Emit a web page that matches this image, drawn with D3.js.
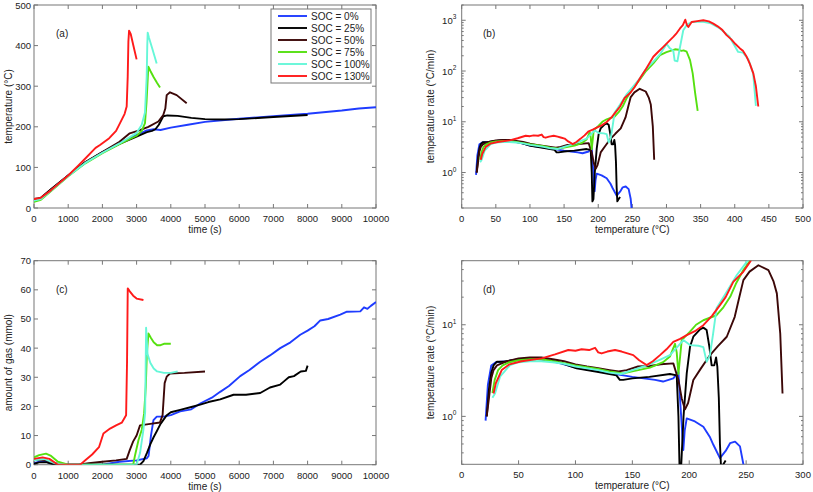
<!DOCTYPE html>
<html><head><meta charset="utf-8">
<script src="https://cdn.jsdelivr.net/npm/d3@7"></script>
<style>body{margin:0;background:#fff}svg{display:block}text{font-family:"Liberation Sans",Arial,Helvetica,sans-serif;fill:#222}</style>
</head><body>
<script>
// ---------------- DATA ----------------
const seriesNames = ["SOC = 0%","SOC = 25%","SOC = 50%","SOC = 75%","SOC = 100%","SOC = 130%"];
const seriesColors = ["#1f3cff","#000000","#3c0808","#55e010","#66f7d8","#ff1a1a"];

// (a) temperature (°C) vs time (s)
const tempTime0 = [[0,20],[200,24],[500,45],[1000,80],[1500,112],[2000,138],[2500,160],[3000,180],[3300,191],[3500,194],[3700,192],[4000,198],[4500,205],[5000,212],[5500,216],[6000,220],[7000,226],[8000,232],[9000,240],[9500,245],[10000,248]];
const tempTime25 = [[0,20],[200,24],[500,46],[1000,80],[1500,112],[2000,137],[2500,158],[3000,176],[3300,187],[3450,190],[3550,194],[3650,205],[3780,226],[3900,228],[4200,227],[4600,222],[5000,219],[5500,218],[6000,219],[7000,224],[8000,229]];
const tempTime50 = [[0,22],[200,25],[500,46],[1000,80],[1500,113],[2000,138],[2500,163],[2800,184],[3100,192],[3343,200],[3635,213],[3780,229],[3840,245],[3880,278],[3977,285],[4172,278],[4464,258]];
const tempTime75 = [[0,15],[200,20],[500,42],[1000,78],[1500,110],[2000,135],[2500,157],[3000,178],[3150,190],[3245,209],[3290,260],[3343,348],[3400,338],[3500,322],[3600,308],[3685,297]];
const tempTime100 = [[0,18],[200,22],[500,43],[1000,79],[1500,111],[2000,136],[2500,159],[3000,185],[3150,205],[3245,235],[3295,323],[3312,400],[3325,432],[3360,420],[3460,392],[3587,356]];
const tempTime130 = [[0,22],[200,25],[500,44],[1000,80],[1300,105],[1500,122],[1800,148],[1930,155],[2200,172],[2400,190],[2515,209],[2650,232],[2710,250],[2740,323],[2760,410],[2780,437],[2830,428],[2900,402],[3000,366]];

// (c) amount of gas (mmol) vs time (s)
const gasTime0 = [[0,0.5],[150,1],[350,1],[600,0.3],[800,0],[2000,0],[2500,1],[3000,1.5],[3300,2.2],[3350,3],[3420,10],[3493,15.3],[3590,16.5],[3800,16.5],[4000,17],[4273,18.3],[4600,19],[4859,21],[5200,23],[5444,25],[5700,27],[6029,30.4],[6300,32.5],[6615,35.3],[6900,37.5],[7200,40],[7500,42],[7785,44.6],[8000,46],[8200,47.5],[8371,49.5],[8600,50],[8956,51.5],[9150,52.5],[9541,52.6],[9650,54],[9750,53.5],[9850,54.5],[10000,55.8]];
const gasTime25 = [[0,0.3],[150,0.8],[350,0.9],[600,0],[3100,0],[3200,1.2],[3300,4],[3400,7],[3500,9.5],[3590,11.5],[3700,14],[3883,17],[4000,18],[4273,18.8],[4600,19.8],[4859,20.6],[5100,21.5],[5444,22.4],[5834,24],[6200,24],[6615,24.6],[6900,26.5],[7200,27.5],[7300,28.5],[7450,30],[7600,30.4],[7800,32],[7950,32.2],[8000,34]];
const gasTime50 = [[0,1.5],[150,1.8],[350,1.6],[600,0.5],[900,0],[1300,0],[1600,0.5],[2000,1],[2400,1.5],[2710,2],[2800,5],[2900,8],[3000,10],[3100,13.5],[3400,14],[3684,14.5],[3760,17],[3820,28],[3880,30.2],[3977,31.3],[4400,31.5],[5000,32]];
const gasTime75 = [[0,2.5],[150,3.3],[350,3.8],[500,3],[700,1],[1000,0],[2900,0],[2950,3],[3054,8.4],[3151,12],[3220,17.6],[3268,26.7],[3300,38],[3346,45],[3420,43.5],[3500,42],[3600,41],[3700,41],[3800,41.5],[4000,41.5]];
const gasTime100 = [[0,1.5],[300,2],[600,0.5],[900,0],[3000,0],[3100,4],[3200,12],[3250,18],[3278,47],[3320,38],[3400,35],[3500,33],[3600,32],[3800,31.5],[4000,31.5],[4200,32]];
const gasTime130 = [[0,2],[250,2.5],[450,2],[700,0],[1350,0],[1500,1.5],[1700,3.5],[1900,6],[2030,10.7],[2224,12.4],[2400,13.5],[2566,14.4],[2693,17],[2720,35],[2741,60.5],[2800,59.5],[2900,58],[3000,57],[3200,56.5]];

// (b),(d) temperature rate (°C/min) vs temperature (°C)
const rateTemp0 = [[21,0.9],[23,2.2],[26,3.6],[30,3.9],[40,4.0],[50,4.2],[60,4.3],[70,4.2],[80,4.0],[90,3.7],[100,3.4],[120,3.1],[135,2.9],[142,2.8],[150,2.7],[160,2.6],[170,2.5],[177,2.4],[186,2.6],[190.5,3.05],[192,1.5],[194.8,0.43],[196,0.7],[197.8,0.95],[205,0.88],[212.4,0.77],[218,0.6],[221.2,0.49],[227,0.35],[232,0.42],[235.9,0.51],[240.3,0.53],[244.6,0.47],[247.6,0.3],[249,0.19],[252,0.19]];
const rateTemp25 = [[22,1.0],[24,2.0],[26,3.0],[28,3.6],[31,3.95],[37,3.95],[45,4.1],[57,4.3],[70,4.2],[84,3.95],[101,3.35],[119,3.07],[136,2.8],[139,2.5],[142,2.5],[150,2.6],[165,2.7],[183,2.9],[189,2.8],[190.5,1.0],[191.5,0.27],[193,0.3],[195,1.0],[197.8,2.95],[200.7,5.75],[203.6,7.4],[209.5,8.9],[212.4,9.3],[215.3,8.75],[217.7,5.75],[219.7,3.6],[222,3.6],[223.6,4.4],[224.7,3.5],[226,1.6],[227,0.5],[228,0.27],[230,0.3],[232,0.33]];
const rateTemp50 = [[22,1.0],[24,1.6],[26,2.6],[28,3.2],[31,3.6],[40,4.0],[50,4.3],[60,4.4],[70,4.4],[80,4.2],[90,4.0],[100,3.7],[110,3.5],[120,3.35],[130,3.2],[138,3.1],[145,3.2],[155,3.5],[165,3.55],[175,3.7],[186,3.79],[190.5,2.49],[193.4,1.57],[196.3,1.19],[199,1.4],[203.6,2.49],[210,3.3],[218.3,4.67],[225,5.8],[233,7.4],[240,12.2],[244,20],[247.6,30.7],[253,38],[260.8,44.6],[269.6,39.5],[274,30],[277,22],[280,8],[282,1.78]];
const rateTemp75 = [[27,1.8],[29,2.5],[32,3.2],[36,3.6],[42,3.9],[50,4.1],[60,4.2],[70,4.2],[80,4.0],[90,3.8],[100,3.6],[120,3.3],[130,3.1],[142,2.95],[150,3.1],[165.5,3.4],[177,3.9],[183,4.5],[187.5,6.2],[189,5.0],[190.5,2.9],[192,4.5],[193.4,6.8],[200.7,8.4],[206,10],[212.4,11.2],[224,12.7],[230,15.5],[236,20.2],[241,28],[247.6,39.6],[253.4,50],[261,68],[270,100],[280.7,141],[290.5,205],[300,235],[312.5,268],[318,262],[322,250],[325,255],[329.6,240],[334.5,164],[338.4,90],[342,36.5],[345.7,16.4]];
const rateTemp100 = [[27,1.6],[29.3,1.78],[33.7,2.71],[42.5,3.63],[50,3.9],[60,4.0],[70,4.0],[80,3.9],[90,3.75],[100,3.5],[120,3.2],[130,3.0],[140,2.9],[150,3.2],[160,3.5],[167,3.8],[175,4.2],[183,4.66],[190,5.8],[194.8,6.8],[200.7,6.0],[208,5.9],[212.4,5.7],[215.3,3.94],[218.2,4.66],[221,8],[224,15.1],[233,22.9],[241.7,34.7],[250.5,48.5],[261,72],[270,110],[280,150],[290,210],[297,290],[300,345],[305,280],[310,250],[312,160],[316,155],[319,260],[324.6,636],[330,820],[337,925],[345,930],[354,930],[365,870],[378.4,690],[392,480],[405,238],[412,230],[420,170],[427,90],[431,20.6]];
const rateTemp130 = [[28,1.78],[30,2.3],[35.2,3.2],[42,3.7],[52.7,4.0],[70.3,4.3],[82,4.74],[93.7,5.3],[100,5.2],[105.4,5.4],[112,5.3],[117.2,5.6],[120,5.0],[123,4.86],[128,5.1],[134.8,5.3],[140.6,5.1],[145,4.9],[150.8,4.66],[156,4.1],[162.6,3.63],[168,4.0],[174.3,4.66],[180,5.4],[186,6.5],[192,7.0],[197.8,7.7],[205,8.5],[212.4,9.9],[220,12.5],[227,16.4],[232,20],[238.7,29.4],[247.5,37.8],[253.4,48.5],[261.2,71.8],[270,110],[280.7,191],[288,240],[295.4,300],[303,380],[310,470],[315,560],[319.8,690],[324,800],[327.6,1025],[330,800],[332,740],[336.9,925],[345,960],[354,1000],[362,950],[368.6,861],[375,760],[382,640],[388,510],[395,420],[401,340],[407.7,279],[412,250],[417.5,191],[422,140],[427.2,90],[431,50],[434.5,20]];

// tick values
const timeTicks = [0,1000,2000,3000,4000,5000,6000,7000,8000,9000,10000];
const tempTicksA = [0,100,200,300,400,500];
const gasTicks = [0,10,20,30,40,50,60,70];
const tempTicksB = [0,50,100,150,200,250,300,350,400,450,500];
const tempTicksD = [0,50,100,150,200,250,300];

// ---------------- DRAWING ----------------
const svg = d3.select("body").append("svg").attr("width",813).attr("height",492);
const FRAME = "#777";

function drawPanel(o, idx){
  const g = svg.append("g");
  const x = d3.scaleLinear().domain(o.xDomain).range([o.x0,o.x1]);
  const y = (o.log ? d3.scaleLog() : d3.scaleLinear()).domain(o.yDomain).range([o.y1,o.y0]);
  const clipId = "clip"+idx;
  svg.append("clipPath").attr("id",clipId).append("rect")
    .attr("x",o.x0).attr("y",o.y0).attr("width",o.x1-o.x0).attr("height",o.y1-o.y0);
  // ticks x (bottom & top, inward)
  o.xTicks.forEach(v=>{
    const px = x(v);
    g.append("line").attr("x1",px).attr("x2",px).attr("y1",o.y1).attr("y2",o.y1-4).attr("stroke",FRAME);
    g.append("line").attr("x1",px).attr("x2",px).attr("y1",o.y0).attr("y2",o.y0+4).attr("stroke",FRAME);
    g.append("text").attr("x",px).attr("y",o.y1+14).attr("text-anchor","middle").attr("font-size",9.5).text(v);
  });
  if(!o.log){
    o.yTicks.forEach(v=>{
      const py = y(v);
      g.append("line").attr("x1",o.x0).attr("x2",o.x0+4).attr("y1",py).attr("y2",py).attr("stroke",FRAME);
      g.append("line").attr("x1",o.x1).attr("x2",o.x1-4).attr("y1",py).attr("y2",py).attr("stroke",FRAME);
      g.append("text").attr("x",o.x0-3).attr("y",py+3.5).attr("text-anchor","end").attr("font-size",9.5).text(v);
    });
  } else {
    const [lo,hi] = o.yDomain;
    for(let e=Math.floor(Math.log10(lo)); e<=Math.ceil(Math.log10(hi)); e++){
      for(let m=1;m<10;m++){
        const v = m*Math.pow(10,e);
        if(v<lo-1e-9||v>hi+1e-9) continue;
        const py = y(v), len = m===1?4:2;
        g.append("line").attr("x1",o.x0).attr("x2",o.x0+len).attr("y1",py).attr("y2",py).attr("stroke",FRAME);
        g.append("line").attr("x1",o.x1).attr("x2",o.x1-len).attr("y1",py).attr("y2",py).attr("stroke",FRAME);
        if(m===1){
          const t = g.append("text").attr("x",o.x0-9).attr("y",py+3.5).attr("text-anchor","end").attr("font-size",9.5).text("10");
          g.append("text").attr("x",o.x0-9).attr("y",py-1).attr("font-size",6.5).text(e);
        }
      }
    }
  }
  // frame
  g.append("rect").attr("x",o.x0).attr("y",o.y0).attr("width",o.x1-o.x0).attr("height",o.y1-o.y0)
    .attr("fill","none").attr("stroke",FRAME).attr("stroke-width",1);
  // lines
  const line = d3.line().x(d=>x(d[0])).y(d=>y(Math.max(d[1], o.log?0.01:-1e9)));
  const lg = g.append("g").attr("clip-path",`url(#${clipId})`);
  o.series.forEach((s,i)=>{
    lg.append("path").datum(s).attr("d",line).attr("fill","none")
      .attr("stroke",seriesColors[i]).attr("stroke-width",1.9).attr("stroke-linejoin","round");
  });
  // labels
  g.append("text").attr("x",(o.x0+o.x1)/2).attr("y",o.y1+25).attr("text-anchor","middle").attr("font-size",10).text(o.xLabel);
  g.append("text").attr("transform",`translate(${o.yLabelX},${(o.y0+o.y1)/2}) rotate(-90)`)
    .attr("text-anchor","middle").attr("font-size",10).text(o.yLabel);
  g.append("text").attr("x",o.tagX).attr("y",o.y0+32).attr("font-size",10).text(o.tag);
}

drawPanel({x0:34,x1:376,y0:5,y1:208,xDomain:[0,10000],yDomain:[0,500],log:false,
  xTicks:timeTicks,yTicks:tempTicksA,xLabel:"time (s)",yLabel:"temperature (°C)",yLabelX:12,tag:"(a)",tagX:56,
  series:[tempTime0,tempTime25,tempTime50,tempTime75,tempTime100,tempTime130]},0);
drawPanel({x0:461.7,x1:803,y0:5,y1:208,xDomain:[0,500],yDomain:[0.2,2000],log:true,
  xTicks:tempTicksB,xLabel:"temperature (°C)",yLabel:"temperature rate (°C/min)",yLabelX:434,tag:"(b)",tagX:483,
  series:[rateTemp0,rateTemp25,rateTemp50,rateTemp75,rateTemp100,rateTemp130]},1);
drawPanel({x0:34,x1:376,y0:260.7,y1:464.7,xDomain:[0,10000],yDomain:[0,70],log:false,
  xTicks:timeTicks,yTicks:gasTicks,xLabel:"time (s)",yLabel:"amount of gas (mmol)",yLabelX:12,tag:"(c)",tagX:56,
  series:[gasTime0,gasTime25,gasTime50,gasTime75,gasTime100,gasTime130]},2);
drawPanel({x0:461.7,x1:803,y0:260.7,y1:464.3,xDomain:[0,300],yDomain:[0.3,50],log:true,
  xTicks:tempTicksD,xLabel:"temperature (°C)",yLabel:"temperature rate (°C/min)",yLabelX:434,tag:"(d)",tagX:483,
  series:[rateTemp0,rateTemp25,rateTemp50,rateTemp75,rateTemp100,rateTemp130]},3);

// legend
const lgd = svg.append("g");
lgd.append("rect").attr("x",271).attr("y",9).attr("width",100).attr("height",74).attr("fill","#fff").attr("stroke",FRAME);
seriesNames.forEach((n,i)=>{
  const yy = 16 + i*12;
  lgd.append("line").attr("x1",278).attr("x2",307).attr("y1",yy).attr("y2",yy).attr("stroke",seriesColors[i]).attr("stroke-width",1.9);
  lgd.append("text").attr("x",311).attr("y",yy+3.6).attr("font-size",10).text(n);
});
</script>
</body></html>
